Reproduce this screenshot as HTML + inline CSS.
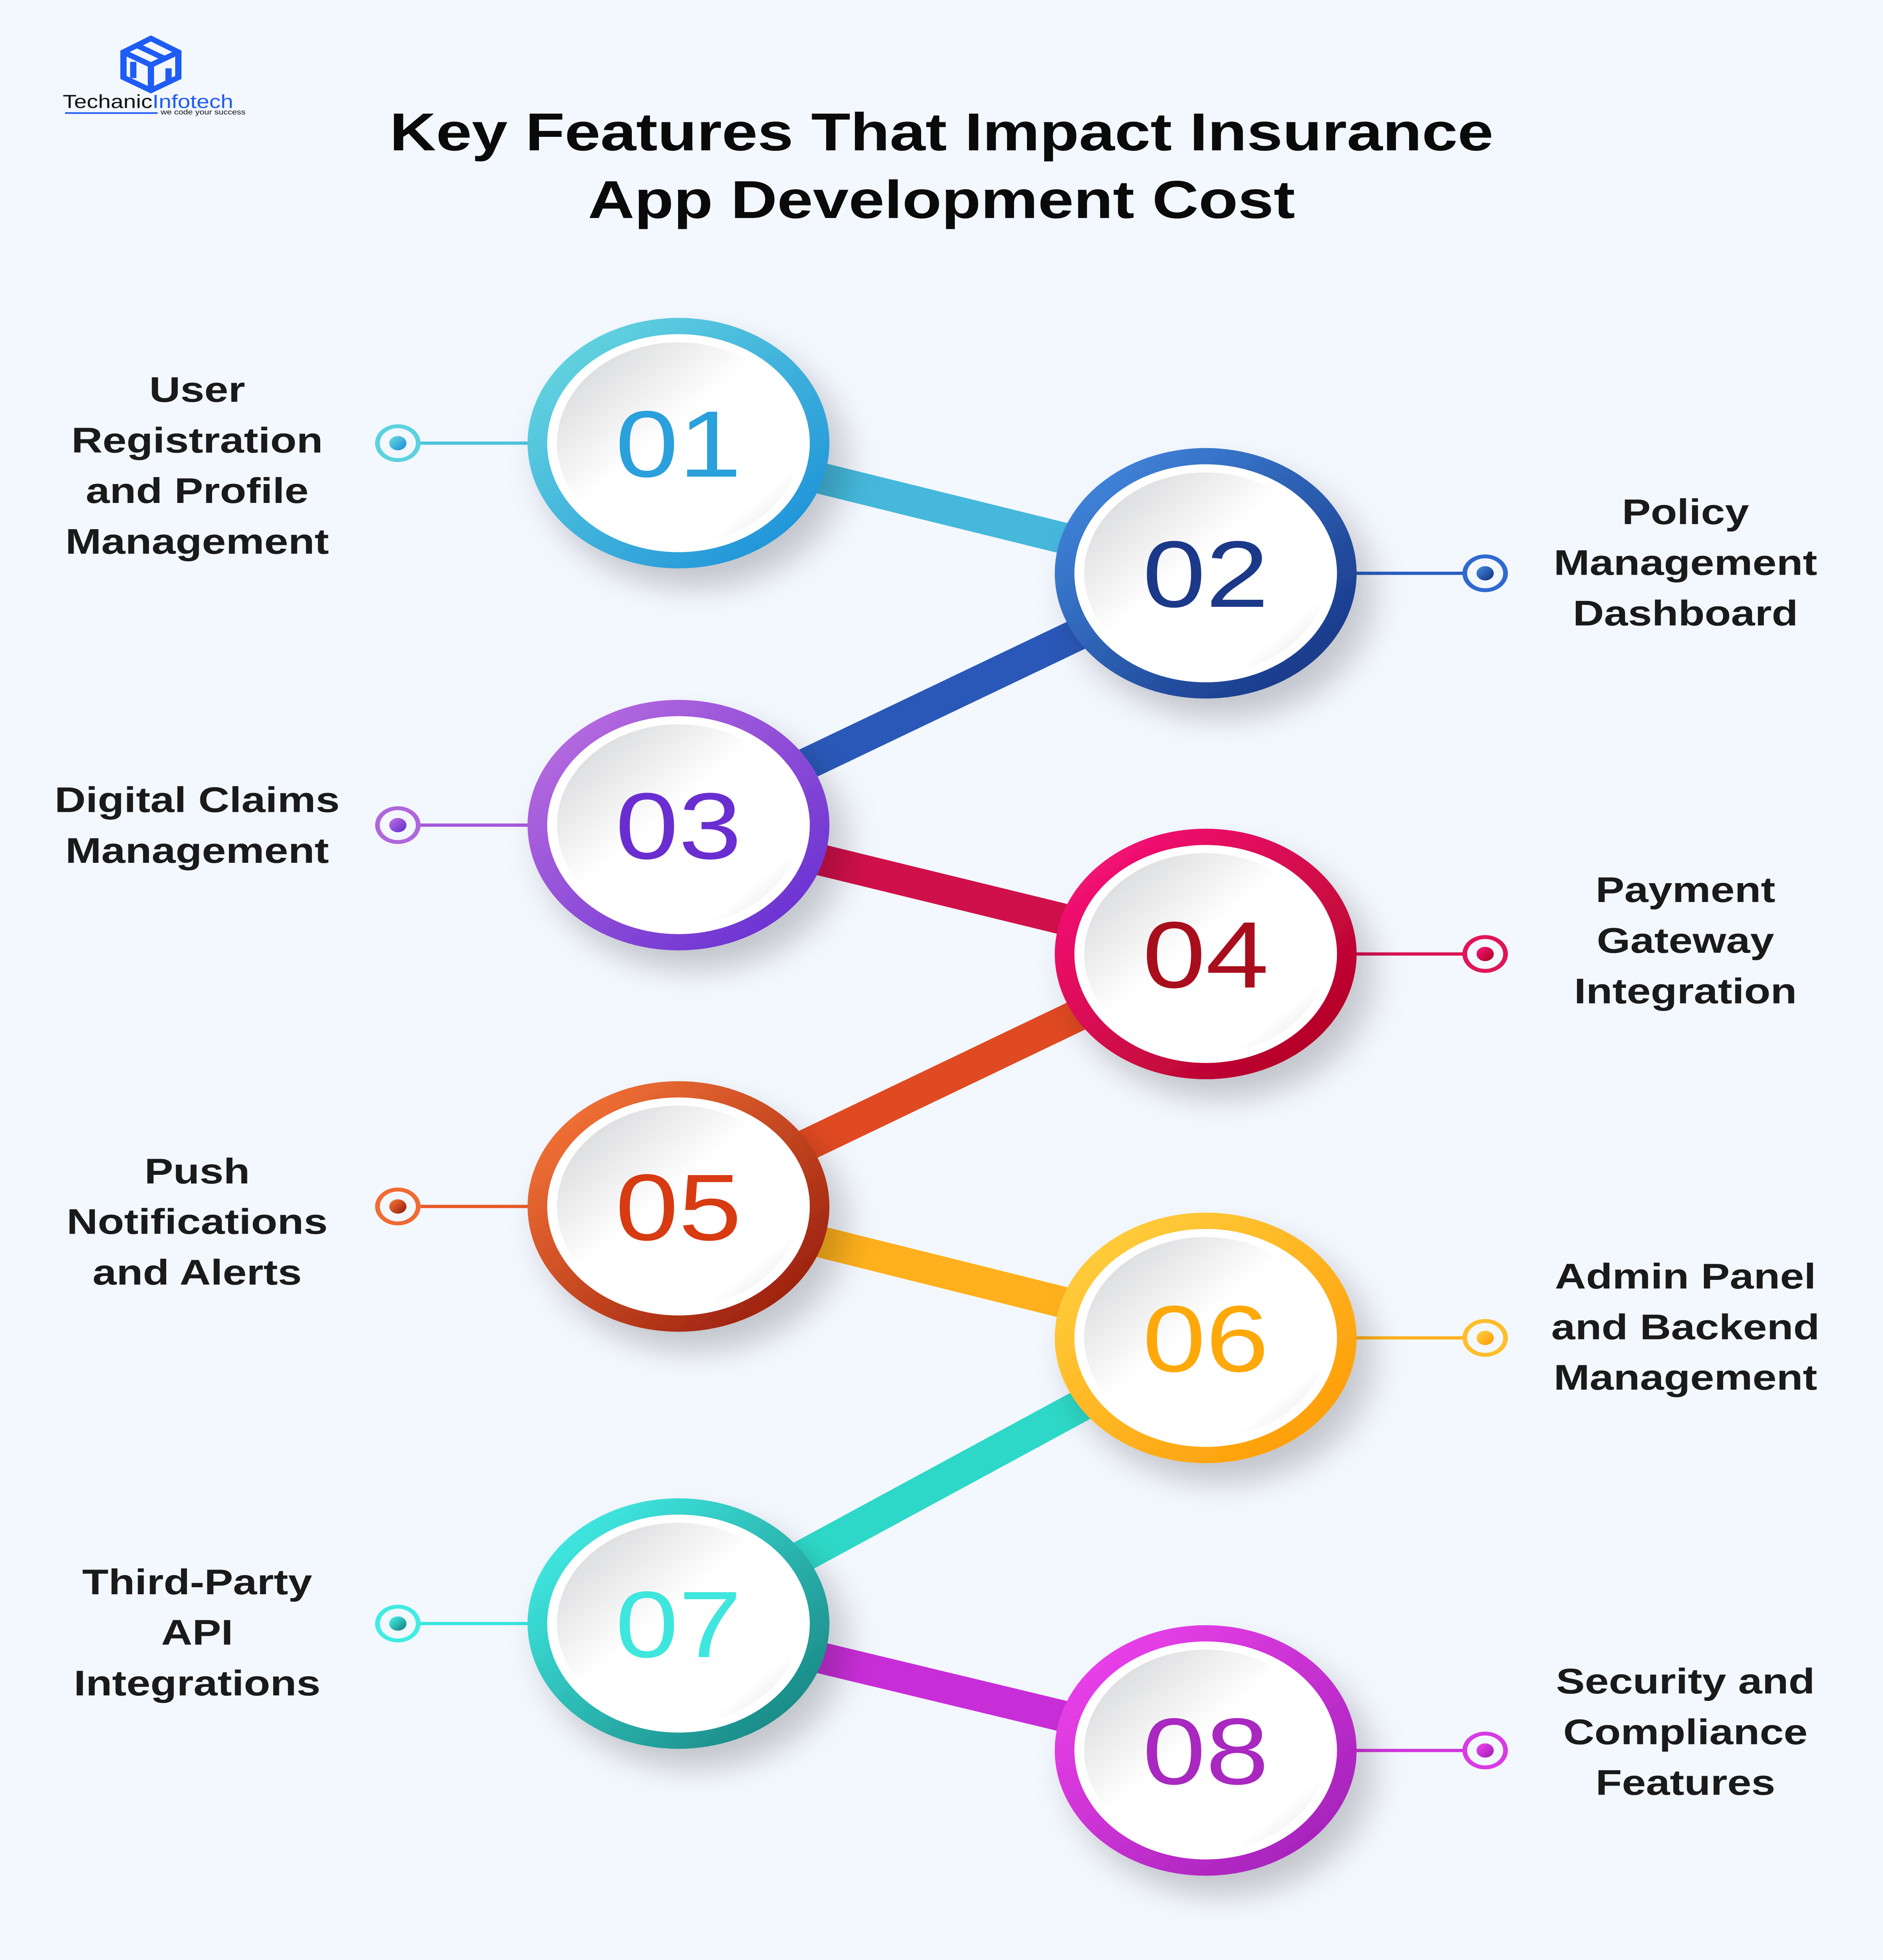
<!DOCTYPE html>
<html><head><meta charset="utf-8"><style>
html,body{margin:0;padding:0;background:#f3f7fe;width:100%;height:100%;overflow:hidden;}
svg{display:block;position:fixed;left:0;top:0;width:100vw;height:100vh;}
text{font-family:"Liberation Sans",sans-serif;}
</style></head><body>
<svg viewBox="0 0 4804 6024" preserveAspectRatio="none" xmlns="http://www.w3.org/2000/svg">
<defs>
<linearGradient id="disc" x1="0" y1="0" x2="1" y2="1">
<stop offset="0" stop-color="#cfd0d2"/><stop offset="0.45" stop-color="#ffffff"/><stop offset="0.8" stop-color="#ffffff"/><stop offset="1" stop-color="#dcdcdc"/></linearGradient>
<linearGradient id="g1" x1="0" y1="0" x2="1" y2="1"><stop offset="0" stop-color="#6ddde0"/><stop offset="1" stop-color="#168ad8"/></linearGradient>
<linearGradient id="g2" x1="0" y1="0" x2="1" y2="1"><stop offset="0" stop-color="#4590e6"/><stop offset="1" stop-color="#132c7c"/></linearGradient>
<linearGradient id="g3" x1="0" y1="0" x2="1" y2="1"><stop offset="0" stop-color="#c072e0"/><stop offset="1" stop-color="#5f2ad0"/></linearGradient>
<linearGradient id="g4" x1="0" y1="0" x2="1" y2="1"><stop offset="0" stop-color="#ff1582"/><stop offset="1" stop-color="#a80018"/></linearGradient>
<linearGradient id="g5" x1="0" y1="0" x2="1" y2="1"><stop offset="0" stop-color="#ff7e3c"/><stop offset="1" stop-color="#8e1408"/></linearGradient>
<linearGradient id="g6" x1="0" y1="0" x2="1" y2="1"><stop offset="0" stop-color="#ffd444"/><stop offset="1" stop-color="#ff9600"/></linearGradient>
<linearGradient id="g7" x1="0" y1="0" x2="1" y2="1"><stop offset="0" stop-color="#45f8f0"/><stop offset="1" stop-color="#157a78"/></linearGradient>
<linearGradient id="g8" x1="0" y1="0" x2="1" y2="1"><stop offset="0" stop-color="#f545f0"/><stop offset="1" stop-color="#9a1eb4"/></linearGradient>
<filter id="sh" x="-30%" y="-30%" width="170%" height="170%"><feDropShadow dx="40" dy="60" stdDeviation="45" flood-color="#000" flood-opacity="0.2"/></filter>
</defs>
<rect width="4804" height="6024" fill="#f3f7fe"/>

<g fill="none" stroke="#1f5cf5" stroke-width="16" stroke-linejoin="miter">
<polygon points="385,118 455,160 455,238 385,278 315,238 315,160"/>
<path d="M315,160 L385,200 L455,160 M385,200 L385,278"/>
<path d="M350,140 L420,180 M340,190 L340,240 M430,210 L430,255"/>
</g>
<text x="160" y="332" font-size="58" fill="#111">Techanic<tspan fill="#1f5cf5">Infotech</tspan></text>
<rect x="166" y="345" width="236" height="5" fill="#1f5cf5"/>
<text x="410" y="352" font-size="22" fill="#111">we code your success</text>

<text x="2402" y="462" font-size="164" font-weight="bold" fill="#0a0a0a" text-anchor="middle">Key Features That Impact Insurance</text>
<text x="2402" y="670" font-size="164" font-weight="bold" fill="#0a0a0a" text-anchor="middle">App Development Cost</text>

<g stroke-width="95" stroke-linecap="butt">
<line x1="1731" y1="1362" x2="3076" y2="1762" stroke="#45b8dc"/>
<line x1="3076" y1="1762" x2="1731" y2="2536" stroke="#2a58b8"/>
<line x1="1731" y1="2536" x2="3076" y2="2932" stroke="#d0104a"/>
<line x1="3076" y1="2932" x2="1731" y2="3708" stroke="#e04a22"/>
<line x1="1731" y1="3708" x2="3076" y2="4112" stroke="#ffb01c"/>
<line x1="3076" y1="4112" x2="1731" y2="4990" stroke="#2ed8c8"/>
<line x1="1731" y1="4990" x2="3076" y2="5380" stroke="#c82ed8"/>
</g>

<g stroke-width="10">
<line x1="1065" y1="1362" x2="1350" y2="1362" stroke="#4ec3dc"/>
<line x1="3460" y1="1762" x2="3740" y2="1762" stroke="#2a5cc0"/>
<line x1="1065" y1="2536" x2="1350" y2="2536" stroke="#a45ad8"/>
<line x1="3460" y1="2932" x2="3740" y2="2932" stroke="#d81450"/>
<line x1="1065" y1="3708" x2="1350" y2="3708" stroke="#e85a2a"/>
<line x1="3460" y1="4112" x2="3740" y2="4112" stroke="#ffb420"/>
<line x1="1065" y1="4990" x2="1350" y2="4990" stroke="#38e4dc"/>
<line x1="3460" y1="5380" x2="3740" y2="5380" stroke="#d034dc"/>
</g>
<g stroke-width="12" fill="none">
<circle cx="1015" cy="1362" r="52" stroke="#5cd2de"/>
<circle cx="3789" cy="1762" r="52" stroke="#2f6ad0"/>
<circle cx="1015" cy="2536" r="52" stroke="#b066dc"/>
<circle cx="3789" cy="2932" r="52" stroke="#e01458"/>
<circle cx="1015" cy="3708" r="52" stroke="#f06a32"/>
<circle cx="3789" cy="4112" r="52" stroke="#ffbe2a"/>
<circle cx="1015" cy="4990" r="52" stroke="#40ece4"/>
<circle cx="3789" cy="5380" r="52" stroke="#d83ae4"/>
</g>
<circle cx="1015" cy="1362" r="22" fill="url(#g1)"/>
<circle cx="3789" cy="1762" r="22" fill="url(#g2)"/>
<circle cx="1015" cy="2536" r="22" fill="url(#g3)"/>
<circle cx="3789" cy="2932" r="22" fill="url(#g4)"/>
<circle cx="1015" cy="3708" r="22" fill="url(#g5)"/>
<circle cx="3789" cy="4112" r="22" fill="url(#g6)"/>
<circle cx="1015" cy="4990" r="22" fill="url(#g7)"/>
<circle cx="3789" cy="5380" r="22" fill="url(#g8)"/>

<g font-size="290" font-weight="500" text-anchor="middle">
<g filter="url(#sh)"><circle cx="1731" cy="1362" r="385" fill="url(#g1)"/></g>
<circle cx="1731" cy="1362" r="335" fill="#fff"/><circle cx="1731" cy="1362" r="310" fill="url(#disc)"/>
<text x="1731" y="1465" fill="#2aa0dc">01</text>

<g filter="url(#sh)"><circle cx="3076" cy="1762" r="385" fill="url(#g2)"/></g>
<circle cx="3076" cy="1762" r="335" fill="#fff"/><circle cx="3076" cy="1762" r="310" fill="url(#disc)"/>
<text x="3076" y="1865" fill="#1c3888">02</text>

<g filter="url(#sh)"><circle cx="1731" cy="2536" r="385" fill="url(#g3)"/></g>
<circle cx="1731" cy="2536" r="335" fill="#fff"/><circle cx="1731" cy="2536" r="310" fill="url(#disc)"/>
<text x="1731" y="2639" fill="#6a2ed0">03</text>

<g filter="url(#sh)"><circle cx="3076" cy="2932" r="385" fill="url(#g4)"/></g>
<circle cx="3076" cy="2932" r="335" fill="#fff"/><circle cx="3076" cy="2932" r="310" fill="url(#disc)"/>
<text x="3076" y="3035" fill="#a80e1c">04</text>

<g filter="url(#sh)"><circle cx="1731" cy="3708" r="385" fill="url(#g5)"/></g>
<circle cx="1731" cy="3708" r="335" fill="#fff"/><circle cx="1731" cy="3708" r="310" fill="url(#disc)"/>
<text x="1731" y="3811" fill="#d83a12">05</text>

<g filter="url(#sh)"><circle cx="3076" cy="4112" r="385" fill="url(#g6)"/></g>
<circle cx="3076" cy="4112" r="335" fill="#fff"/><circle cx="3076" cy="4112" r="310" fill="url(#disc)"/>
<text x="3076" y="4215" fill="#ffa80a">06</text>

<g filter="url(#sh)"><circle cx="1731" cy="4990" r="385" fill="url(#g7)"/></g>
<circle cx="1731" cy="4990" r="335" fill="#fff"/><circle cx="1731" cy="4990" r="310" fill="url(#disc)"/>
<text x="1731" y="5093" fill="#3ee6de">07</text>

<g filter="url(#sh)"><circle cx="3076" cy="5380" r="385" fill="url(#g8)"/></g>
<circle cx="3076" cy="5380" r="335" fill="#fff"/><circle cx="3076" cy="5380" r="310" fill="url(#disc)"/>
<text x="3076" y="5483" fill="#a828c0">08</text>
</g>

<g font-size="110" font-weight="bold" fill="#1a1a1a" text-anchor="middle">
<text x="503" y="1235">User</text>
<text x="503" y="1391">Registration</text>
<text x="503" y="1546">and Profile</text>
<text x="503" y="1702">Management</text>

<text x="503" y="2496">Digital Claims</text>
<text x="503" y="2652">Management</text>

<text x="503" y="3637">Push</text>
<text x="503" y="3792">Notifications</text>
<text x="503" y="3948">and Alerts</text>

<text x="503" y="4900">Third-Party</text>
<text x="503" y="5055">API</text>
<text x="503" y="5211">Integrations</text>

<text x="4300" y="1611">Policy</text>
<text x="4300" y="1767">Management</text>
<text x="4300" y="1922">Dashboard</text>

<text x="4300" y="2772">Payment</text>
<text x="4300" y="2928">Gateway</text>
<text x="4300" y="3084">Integration</text>

<text x="4300" y="3960">Admin Panel</text>
<text x="4300" y="4116">and Backend</text>
<text x="4300" y="4271">Management</text>

<text x="4300" y="5205">Security and</text>
<text x="4300" y="5361">Compliance</text>
<text x="4300" y="5516">Features</text>
</g>
</svg>
</body></html>
